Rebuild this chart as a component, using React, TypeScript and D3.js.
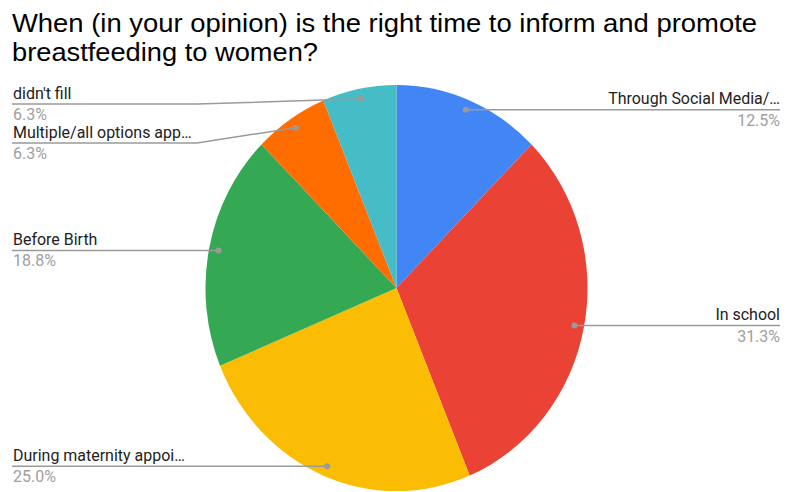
import React from "react";
import * as d3 from "d3";

const categories = [
  "Through Social Media/…",
  "In school",
  "During maternity appoi…",
  "Before Birth",
  "Multiple/all options app…",
  "didn't fill",
];
const counts = [2, 5, 4, 3, 1, 1];
const colors = ["#4285f4", "#ea4335", "#fbbc04", "#34a853", "#ff6d01", "#46bdc6"];
const titleLines = [
  "When (in your opinion) is the right time to inform and promote",
  "breastfeeding to women?",
];

// label layout: side and y of leader line, optional elbow x
const labelLayout = [
  { side: "right", y: null as number | null, elbow: null as number | null },
  { side: "right", y: null, elbow: null },
  { side: "left", y: null, elbow: null },
  { side: "left", y: null, elbow: null },
  { side: "left", y: 143, elbow: 197 },
  { side: "left", y: 104, elbow: 197 },
];

const W = 789;
const H = 492;
const cx = 396.5;
const cy = 288;
const rx = 191;
const ry = 203;
const SX = 0.94;

export default function App() {
  const total = d3.sum(counts);
  const pie = d3.pie<number>().sort(null).value((d) => d);
  const arcs = pie(counts);
  const arc = d3.arc<d3.PieArcDatum<number>>().innerRadius(0).outerRadius(1);

  const label = (x: number, y: number, anchor: string, fill: string, s: string) => (
    <text
      transform={`translate(${x},${y}) scale(${SX},1)`}
      textAnchor={anchor}
      fontFamily="Roboto, sans-serif"
      fontSize={17}
      fill={fill}
    >
      {s}
    </text>
  );

  return (
    <svg
      width={W}
      height={H}
      style={{ position: "absolute", left: 0, top: 0, background: "#fff" }}
    >
      <rect width={W} height={H} fill="#fff" />
      {titleLines.map((t, i) => (
        <text
          key={i}
          x={12}
          y={32 + i * 29}
          fontFamily="'Liberation Sans', Arial, sans-serif"
          fontSize={25.5}
          fill="#000"
          textLength={i === 0 ? 745 : 306}
          lengthAdjust="spacingAndGlyphs"
        >
          {t}
        </text>
      ))}
      <g transform={`translate(${cx},${cy}) scale(${rx},${ry})`}>
        {arcs.map((a, i) => (
          <path key={i} d={arc(a) || ""} fill={colors[i]} />
        ))}
      </g>
      {arcs.map((a, i) => {
        const mid = (a.startAngle + a.endAngle) / 2;
        const dx = cx + Math.sin(mid) * 0.95 * rx;
        const dy = cy - Math.cos(mid) * 0.95 * ry;
        const lay = labelLayout[i];
        const ly = lay.y ?? dy;
        const pct = ((counts[i] / total) * 100).toFixed(1) + "%";
        let pts: [number, number][];
        let tx: number;
        let anchor: string;
        if (lay.side === "right") {
          pts = [
            [dx, dy],
            [780, ly],
          ];
          tx = 780;
          anchor = "end";
        } else {
          pts = lay.elbow
            ? [
                [12, ly],
                [lay.elbow, ly],
                [dx, dy],
              ]
            : [
                [12, ly],
                [dx, dy],
              ];
          tx = 13;
          anchor = "start";
        }
        return (
          <g key={i}>
            <path
              d={d3.line()(pts) || ""}
              fill="none"
              stroke="#9a9a9a"
              strokeWidth={1.5}
            />
            <circle cx={dx} cy={dy} r={3} fill="#9a9a9a" />
            {label(tx, ly - 5.5, anchor, "#222", categories[i])}
            {label(tx, ly + 16, anchor, "#9e9e9e", pct)}
          </g>
        );
      })}
    </svg>
  );
}
